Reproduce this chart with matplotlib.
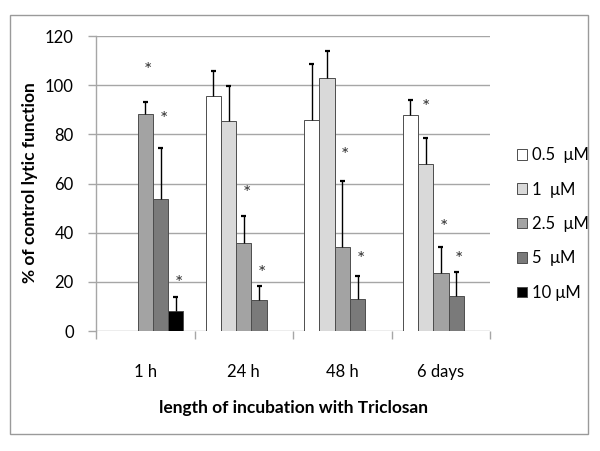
import numpy as np
import matplotlib
matplotlib.use("Agg")
import matplotlib.pyplot as plt
from matplotlib.patches import Rectangle

plt.rcParams['font.family'] = ['Lato', 'DejaVu Sans']

# data
times = ["1 h", "24 h", "48 h", "6 days"]
series = ["0.5  \u03bcM", "1  \u03bcM", "2.5  \u03bcM", "5  \u03bcM", "10 \u03bcM"]
colors = ["#ffffff", "#d9d9d9", "#a3a3a3", "#7a7a7a", "#000000"]

conc_05 = [np.nan, 95.6, 85.8, 87.7]
conc_1 = [np.nan, 85.3, 102.8, 67.9]
conc_25 = [88.2, 35.7, 34.3, 23.5]
conc_5 = [53.7, 12.6, 12.9, 14.2]
conc_10 = [8.3, np.nan, np.nan, np.nan]

err_05 = [np.nan, 10.3, 22.9, 6.1]
err_1 = [np.nan, 14.5, 11.1, 10.5]
err_25 = [5.1, 11.2, 26.7, 10.7]
err_5 = [20.9, 5.7, 9.5, 9.8]
err_10 = [5.7, np.nan, np.nan, np.nan]

# y position of the significance asterisks (nan = none)
star_05 = [np.nan, np.nan, np.nan, 91]
star_1 = [np.nan, np.nan, np.nan, np.nan]
star_25 = [106, 56, 71.6, 42]
star_5 = [86, 23.5, 29.3, 29.3]
star_10 = [19.5, np.nan, np.nan, np.nan]

values = [conc_05, conc_1, conc_25, conc_5, conc_10]
errors = [err_05, err_1, err_25, err_5, err_10]
stars = [star_05, star_1, star_25, star_5, star_10]

fig = plt.figure(figsize=(6, 4.51), dpi=100)
ax = fig.add_axes([0.16, 0.266, 0.657, 0.654])

# chart area frame
fig.patches.append(Rectangle((10 / 600, 1 - 434 / 451), 578 / 600, 419 / 451,
                             transform=fig.transFigure, fill=False,
                             edgecolor="#9a9a9a", linewidth=1.0))

x = np.arange(len(times))
w = 0.155
cap = 0.025
for i in range(len(series)):
    pos = x + (i - 2) * w
    v = np.array(values[i])
    e = np.array(errors[i])
    ax.bar(pos, v, width=w, color=colors[i], edgecolor="#4d4d4d",
           linewidth=0.7, label=series[i], zorder=3)
    # upper error bars only
    ax.vlines(pos, v, v + e, color="black", linewidth=1.0, zorder=4)
    ax.hlines(v + e, pos - cap, pos + cap, color="black", linewidth=1.6, zorder=4)
    for j in range(len(times)):
        if not np.isnan(stars[i][j]):
            dx = 0.03
            if i == 0:
                dx = 0.16
            ax.text(pos[j] + dx, stars[i][j], "*", ha="center", va="center",
                    fontsize=14, color="#333333", zorder=5)

ax.set_xlim(-0.5, 3.5)
ax.set_ylim(0, 120)
ax.set_yticks(range(0, 121, 20))
ax.yaxis.grid(True, color="#a6a6a6", linewidth=1.0, zorder=0)
ax.set_axisbelow(True)
ax.set_xticks(x)
ax.set_xticklabels(times, fontsize=12)
ax.set_xticks(np.arange(-0.5, 4, 1), minor=True)
ax.tick_params(axis="x", which="major", length=0, pad=24)
ax.tick_params(axis="x", which="minor", length=6, color="#a6a6a6", width=1.0)
ax.tick_params(axis="y", length=6, color="#a6a6a6", width=1.0, labelsize=12, pad=10)

for s in ["top", "right", "bottom"]:
    ax.spines[s].set_visible(False)
ax.spines["left"].set_color("#a6a6a6")
ax.spines["left"].set_linewidth(1.0)

ax.set_xlabel("length of incubation with Triclosan", fontsize=12.5,
              fontweight="bold", labelpad=14)
fig.text(30 / 600, 1 - 183 / 451, "% of control lytic function", rotation=90,
         ha="center", va="center", fontsize=12.5, fontweight="bold")

handles, labels = ax.get_legend_handles_labels()
fig.legend(handles, labels, loc="center left", bbox_to_anchor=(502 / 600, 1 - 224 / 451),
           frameon=False, fontsize=12, handlelength=0.6, handleheight=0.6,
           handletextpad=0.3, labelspacing=1.1)

fig.savefig("out.png", dpi=100)
